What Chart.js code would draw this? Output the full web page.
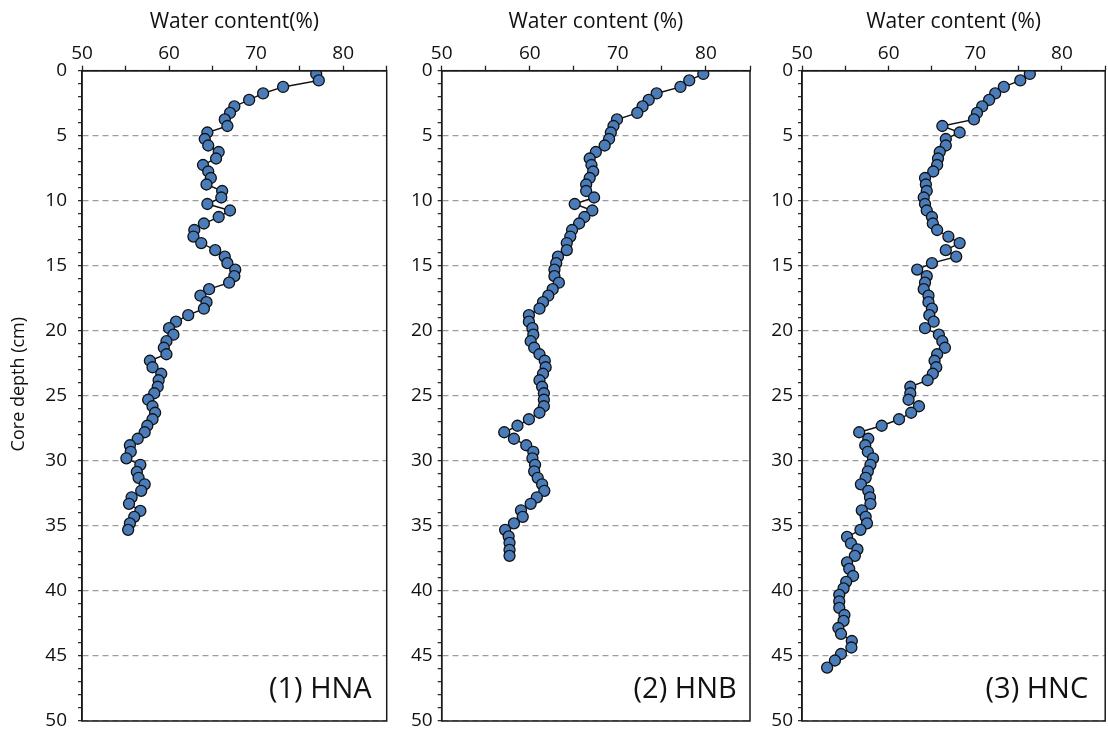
<!DOCTYPE html>
<html>
<head>
<meta charset="utf-8">
<script src="https://cdn.jsdelivr.net/npm/chart.js@4.4.1/dist/chart.umd.min.js"></script>
<style>
  html, body { margin: 0; padding: 0; background: #fff; overflow: hidden; }
  body { width: 1108px; height: 736px; position: relative; }
  .panel { position: absolute; top: 0; height: 736px; }
</style>
</head>
<body>
<div class="panel" style="left:0px;width:400px"><canvas id="hna-chart"></canvas></div>
<div class="panel" style="left:400px;width:360px"><canvas id="hnb-chart"></canvas></div>
<div class="panel" style="left:760px;width:352px"><canvas id="hnc-chart"></canvas></div>
<script>
// core depth (cm) and water content (%)
const depthHNA = [
    0.25, 0.75, 1.25, 1.75, 2.25, 2.75, 3.25, 3.75, 4.25, 4.75, 5.25, 5.75, 6.25, 6.75,
    7.25, 7.75, 8.25, 8.75, 9.25, 9.75, 10.25, 10.75, 11.25, 11.75, 12.25, 12.75, 13.25,
    13.8, 14.3, 14.8, 15.3, 15.8, 16.3, 16.8, 17.3, 17.8, 18.3, 18.8, 19.3, 19.8, 20.3,
    20.8, 21.3, 21.8, 22.3, 22.8, 23.3, 23.8, 24.3, 24.8, 25.3, 25.8, 26.3, 26.8, 27.3,
    27.8, 28.3, 28.8, 29.3, 29.8, 30.3, 30.85, 31.3, 31.8, 32.3, 32.8, 33.3, 33.85,
    34.3, 34.8, 35.3
];
const waterHNA = [
    76.9, 77.2, 73.1, 70.8, 69.2, 67.5, 67.0, 66.4, 66.7, 64.4, 64.1, 64.5, 65.7, 65.4,
    63.9, 64.5, 64.8, 64.3, 66.1, 66.0, 64.4, 67.0, 65.7, 64.0, 62.9, 62.8, 63.7,
    65.3, 66.4, 66.7, 67.6, 67.5, 66.9, 64.6, 63.6, 64.3, 64.0, 62.2, 60.8, 60.0, 60.5,
    59.7, 59.4, 59.7, 57.8, 58.1, 59.1, 58.8, 58.7, 58.3, 57.6, 58.1, 58.4, 58.1, 57.5,
    57.2, 56.4, 55.5, 55.6, 55.1, 56.7, 56.3, 56.5, 57.2, 56.8, 55.7, 55.4, 56.7,
    56.0, 55.5, 55.3
];

const depthHNB = [
    0.25, 0.75, 1.25, 1.75, 2.25, 2.75, 3.25, 3.75, 4.25, 4.75, 5.25, 5.75, 6.25, 6.75,
    7.25, 7.75, 8.25, 8.75, 9.25, 9.75, 10.25, 10.75, 11.25, 11.75, 12.25, 12.75, 13.25,
    13.8, 14.3, 14.8, 15.3, 15.8, 16.3, 16.8, 17.3, 17.8, 18.3, 18.8, 19.3, 19.8, 20.3,
    20.8, 21.3, 21.8, 22.3, 22.8, 23.3, 23.8, 24.3, 24.8, 25.3, 25.8, 26.3, 26.8, 27.3,
    27.8, 28.3, 28.8, 29.3, 29.8, 30.3, 30.8, 31.3, 31.8, 32.3, 32.8, 33.3, 33.8, 34.3,
    34.8, 35.3, 35.8, 36.3, 36.85, 37.3
];
const waterHNB = [
    79.7, 78.1, 77.1, 74.4, 73.5, 72.8, 72.2, 69.9, 69.5, 69.2, 69.0, 68.5, 67.5, 66.8,
    67.0, 67.2, 66.8, 66.4, 66.4, 67.3, 65.1, 67.1, 66.2, 65.6, 64.8, 64.6, 64.2,
    64.2, 63.2, 63.0, 62.8, 62.8, 63.3, 62.6, 62.1, 61.5, 61.1, 59.9, 59.9, 60.3, 60.4,
    60.1, 60.5, 61.1, 61.7, 61.8, 61.5, 61.1, 61.4, 61.6, 61.6, 61.6, 61.1, 59.9, 58.6,
    57.1, 58.2, 59.6, 60.4, 60.3, 60.6, 60.5, 60.9, 61.4, 61.65, 60.8, 60.1, 59.0, 59.2,
    58.2, 57.2, 57.6, 57.7, 57.7, 57.7
];

const depthHNC = [
    0.25, 0.75, 1.25, 1.75, 2.25, 2.75, 3.25, 3.75, 4.25, 4.75, 5.25, 5.75, 6.25, 6.75,
    7.25, 7.75, 8.25, 8.75, 9.25, 9.75, 10.25, 10.75, 11.25, 11.75, 12.25, 12.75, 13.25,
    13.8, 14.3, 14.8, 15.3, 15.8, 16.3, 16.8, 17.3, 17.8, 18.3, 18.8, 19.3, 19.8, 20.3,
    20.8, 21.3, 21.8, 22.3, 22.8, 23.3, 23.8, 24.3, 24.8, 25.3, 25.8, 26.3, 26.8, 27.3,
    27.8, 28.3, 28.8, 29.3, 29.8, 30.3, 30.8, 31.3, 31.8, 32.3, 32.8, 33.3, 33.8, 34.3,
    34.8, 35.3, 35.85, 36.35, 36.8, 37.3, 37.8, 38.3, 38.85, 39.3, 39.8, 40.3, 40.8,
    41.3, 41.85, 42.3, 42.85, 43.3, 43.85, 44.35, 44.85, 45.35, 45.9
];
const waterHNC = [
    76.3, 75.2, 73.3, 72.3, 71.6, 70.8, 70.2, 69.85, 66.2, 68.2, 66.6, 66.6, 65.9, 65.7,
    65.6, 65.15, 64.2, 64.3, 64.4, 64.05, 64.2, 64.4, 65.0, 65.1, 65.6, 66.9, 68.2,
    66.6, 67.8, 65.0, 63.3, 64.4, 64.2, 64.05, 64.6, 64.6, 65.0, 64.7, 65.2, 64.2, 65.8,
    66.2, 66.5, 65.6, 65.3, 65.5, 65.1, 64.5, 62.5, 62.5, 62.3, 63.5, 62.6, 61.2, 59.2,
    56.6, 57.65, 57.3, 57.6, 58.2, 57.9, 57.6, 57.35, 56.8, 57.65, 57.85, 57.9, 56.9, 57.35,
    57.5, 56.75, 55.2, 55.65, 56.4, 56.1, 55.2, 55.45, 55.9, 55.1, 54.8, 54.3, 54.3,
    54.3, 54.9, 54.8, 54.2, 54.5, 55.75, 55.7, 54.5, 53.8, 52.9
];

const xTicks = [50, 60, 70, 80];
const yTicks = [0, 5, 10, 15, 20, 25, 30, 35, 40, 45, 50];

Chart.defaults.font.family = "'Open Sans', sans-serif";
Chart.defaults.color = '#111';

// box round the plot area, the (n) label, and the depth title on the first panel
const framePlugin = {
    id: 'frame',
    afterDraw(chart, args, opts) {
        const {ctx, chartArea: a} = chart;
        ctx.save();
        ctx.strokeStyle = '#1a1a1a';
        ctx.lineWidth = 1.5;
        ctx.strokeRect(a.left, a.top, a.right - a.left, a.bottom - a.top);
        ctx.fillStyle = '#111';
        ctx.font = "29px 'Open Sans', sans-serif";
        ctx.textAlign = 'right';
        ctx.textBaseline = 'middle';
        ctx.fillText(opts.label, a.right - opts.labelRight, a.bottom - 31);
        if (opts.yTitle) {
            ctx.font = "18px 'Open Sans', sans-serif";
            ctx.textAlign = 'center';
            ctx.translate(19, a.top + (a.bottom - a.top) * 0.482);
            ctx.rotate(-Math.PI / 2);
            ctx.fillText(opts.yTitle, 0, 0);
        }
        ctx.restore();
    }
};

const createChart = (id, label, water, depth, xTitle, yTitle, yWidth, tickPad, labelRight, padRight) => {
    const points = water.map((w, i) => ({x: w, y: depth[i]}));

    const config = {
        type: 'scatter',
        data: {
            datasets: [{
                data: points,
                showLine: true,
                borderColor: '#111',
                borderWidth: 1.4,
                pointRadius: 5.5,
                pointBackgroundColor: '#4a7cba',
                pointBorderColor: '#111',
                pointBorderWidth: 1.3
            }]
        },
        options: {
            animation: false,
            events: [],
            responsive: true,
            maintainAspectRatio: false,
            layout: { padding: { left: 0, right: padRight, top: 0, bottom: 15 } },
            plugins: {
                legend: { display: false },
                tooltip: { enabled: false },
                frame: { label: label, labelRight: labelRight, yTitle: yTitle }
            },
            scales: {
                x: {
                    type: 'linear',
                    position: 'top',
                    min: 50,
                    max: 85,
                    afterFit: (s) => { s.height = 70.7; s.paddingLeft = 0; s.paddingRight = 0; },
                    title: {
                        display: true,
                        text: xTitle,
                        font: { size: 21 },
                        padding: { top: 9, bottom: 0 }
                    },
                    ticks: {
                        stepSize: 5,
                        maxRotation: 0,
                        autoSkip: false,
                        padding: 1,
                        font: { size: 19 },
                        callback: (v) => xTicks.includes(v) ? v : ''
                    },
                    grid: { drawOnChartArea: false, tickLength: 5, tickColor: '#222', tickWidth: 1.3 },
                    border: { color: '#1a1a1a', width: 1.5 }
                },
                y: {
                    type: 'linear',
                    reverse: true,
                    min: 0,
                    max: 50,
                    afterFit: (s) => { s.width = yWidth; s.paddingTop = 0; s.paddingBottom = 0; },
                    ticks: {
                        stepSize: 1,
                        autoSkip: false,
                        padding: tickPad,
                        font: { size: 19 },
                        callback: (v) => yTicks.includes(v) ? v : ''
                    },
                    grid: {
                        color: (c) => (c.tick && c.tick.value % 5 === 0) ? '#9c9c9c' : 'rgba(0,0,0,0)',
                        lineWidth: 1.3,
                        tickColor: '#222',
                        tickLength: 4,
                        tickWidth: 1.2,
                        tickBorderDash: []
                    },
                    border: { dash: [6, 4], color: '#1a1a1a', width: 1.5 }
                }
            }
        },
        plugins: [framePlugin]
    };

    new Chart(document.getElementById(id), config);
};

createChart('hna-chart', '(1) HNA', waterHNA, depthHNA, 'Water content(%)', 'Core depth (cm)', 82, 11, 15, 13.3);
createChart('hnb-chart', '(2) HNB', waterHNB, depthHNB, 'Water content (%)', '', 41.7, 5, 13.3, 10);
createChart('hnc-chart', '(3) HNC', waterHNC, depthHNC, 'Water content (%)', '', 42, 5, 17, 2);
</script>
</body>
</html>
